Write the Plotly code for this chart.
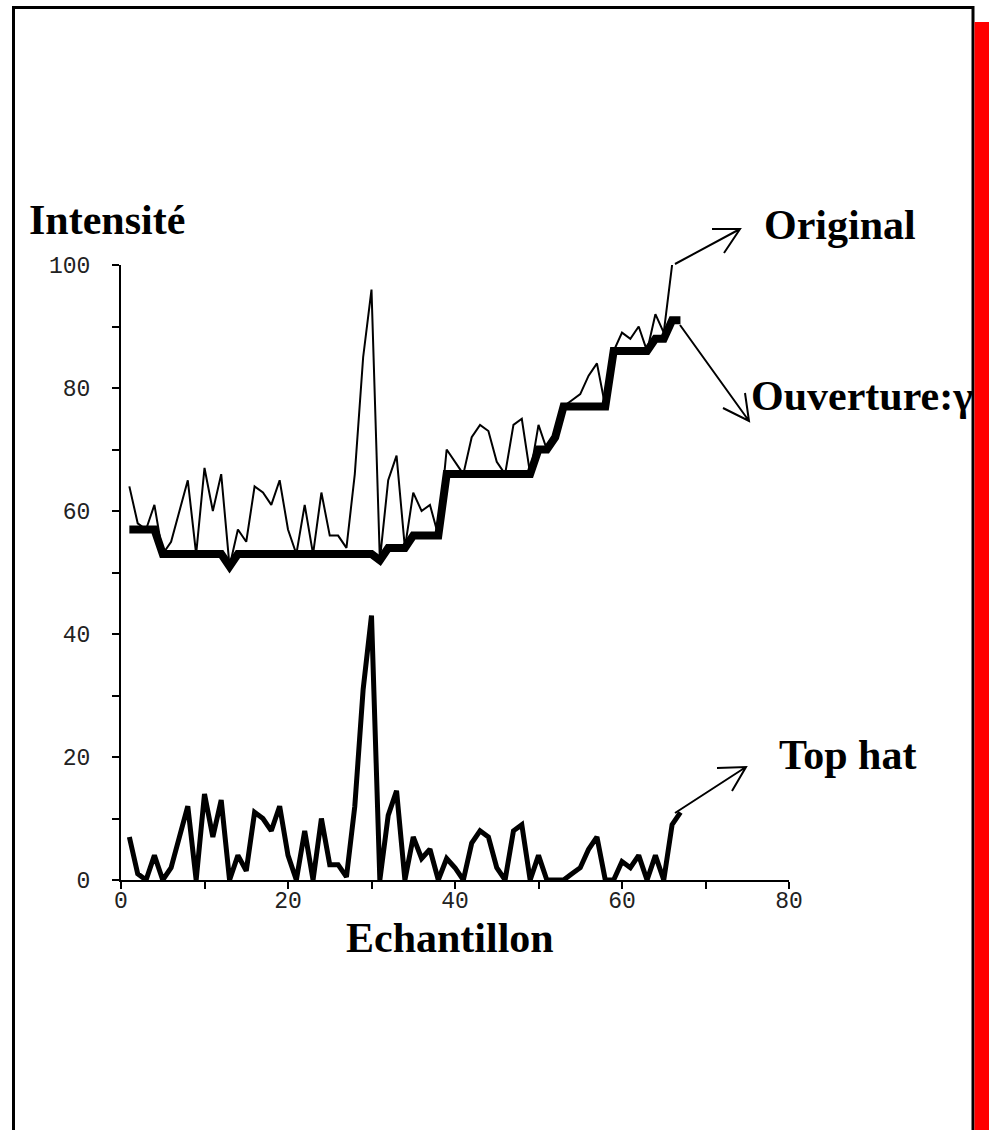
import plotly.graph_objects as go

# ---- data ----
x_original = list(range(1, 67))
original = [64, 58, 57, 61, 53, 55, 60, 65, 53, 67,
            60, 66, 51, 57, 55, 64, 63, 61, 65, 57,
            53, 61, 53, 63, 56, 56, 54, 66, 85, 96,
            52, 65, 69, 54, 63, 60, 61, 56, 70, 68,
            66, 72, 74, 73, 68, 66, 74, 75, 66, 74,
            70, 72, 77, 78, 79, 82, 84, 77, 86, 89,
            88, 90, 86, 92, 89, 100]

x_filtered = list(range(1, 68))
ouverture = [57, 57, 57, 57, 53, 53, 53, 53, 53, 53,
             53, 53, 51, 53, 53, 53, 53, 53, 53, 53,
             53, 53, 53, 53, 53, 53, 53, 53, 53, 53,
             52, 54, 54, 54, 56, 56, 56, 56, 66, 66,
             66, 66, 66, 66, 66, 66, 66, 66, 66, 70,
             70, 72, 77, 77, 77, 77, 77, 77, 86, 86,
             86, 86, 86, 88, 88, 91, 91]

top_hat = [7, 1, 0, 4, 0, 2, 7, 12, 0, 14,
           7, 13, 0, 4, 1.5, 11, 10, 8, 12, 4,
           0, 8, 0, 10, 2.5, 2.5, 0.5, 12, 31, 43,
           0, 10.5, 14.5, 0, 7, 3.5, 5, 0, 3.5, 2,
           0, 6, 8, 7, 2, 0, 8, 9, 0, 4,
           0, 0, 0, 1, 2, 5, 7, 0, 0, 3,
           2, 4, 0, 4, 0, 9, 11]

x_title = "Echantillon"
y_title = "Intensité"
labels = ["Original", "Ouverture:γ", "Top hat"]

# ---- layout geometry (pixels) ----
W, H = 989, 1130
L, R, T, B = 121, 200, 265, 250
PW, PH = W - L - R, H - T - B


def px(xp):
    return (xp - L) / PW


def py(yp):
    return (H - B - yp) / PH


fig = go.Figure()
fig.add_trace(go.Scatter(x=x_original, y=original, mode="lines",
                         line=dict(color="black", width=2), showlegend=False))
fig.add_trace(go.Scatter(x=x_filtered, y=ouverture, mode="lines",
                         line=dict(color="black", width=8), showlegend=False))
fig.add_trace(go.Scatter(x=x_filtered, y=top_hat, mode="lines",
                         line=dict(color="black", width=5), showlegend=False))

tickfont = dict(family="Liberation Mono", size=23, color="#222222")
fig.update_xaxes(range=[0, 80], tickmode="linear", tick0=0, dtick=20,
                 ticks="outside", ticklen=7, tickwidth=2, tickcolor="black",
                 minor=dict(dtick=10, ticks="outside", ticklen=7, tickwidth=2, tickcolor="black"),
                 showline=True, linecolor="black", linewidth=2,
                 showgrid=False, zeroline=False, tickfont=tickfont,
                 ticklabelstandoff=-9)
fig.update_yaxes(range=[0, 100], tickmode="linear", tick0=0, dtick=20,
                 ticks="outside", ticklen=7, tickwidth=2, tickcolor="black",
                 minor=dict(dtick=10, ticks="outside", ticklen=7, tickwidth=2, tickcolor="black"),
                 showline=True, linecolor="black", linewidth=2,
                 showgrid=False, zeroline=False, tickfont=tickfont,
                 ticklabelstandoff=17)

serif = dict(family="Liberation Serif", size=42, color="black", weight="bold")

annots = [
    (y_title, 27, 220, "left"),
    (labels[0], 762, 225, "left"),
    (labels[1], 749, 396, "left"),
    (labels[2], 777, 755, "left"),
    (x_title, 450, 938, "center"),
]
for text, xp_, yp_, anchor in annots:
    fig.add_annotation(text=text, xref="paper", yref="paper",
                       x=px(xp_), y=py(yp_), xanchor=anchor, yanchor="middle",
                       showarrow=False, font=serif)

# arrows: (start, tip, arm1, arm2)
arrows = [
    ((675, 264), (740, 229), (712, 229), (724, 253)),
    ((680, 325), (749, 421), (723, 408), (745, 393)),
    ((675, 813), (746, 767), (717, 768), (732, 791)),
]
for s, t, a1, a2 in arrows:
    path = (f"M {px(s[0])} {py(s[1])} L {px(t[0])} {py(t[1])} "
            f"M {px(a1[0])} {py(a1[1])} L {px(t[0])} {py(t[1])} L {px(a2[0])} {py(a2[1])}")
    fig.add_shape(type="path", path=path, xref="paper", yref="paper",
                  line=dict(color="black", width=2))

# outer frame and red side bar
fig.add_shape(type="rect", xref="paper", yref="paper",
              x0=px(13.5), x1=px(973), y0=py(1140), y1=py(7.5),
              line=dict(color="black", width=3), fillcolor="rgba(0,0,0,0)")
fig.add_shape(type="rect", xref="paper", yref="paper",
              x0=px(974.5), x1=px(995), y0=py(1140), y1=py(22),
              line=dict(width=0), fillcolor="#ff0000", layer="above")

fig.update_layout(width=W, height=H, margin=dict(l=L, r=R, t=T, b=B),
                  paper_bgcolor="white", plot_bgcolor="white", showlegend=False)

fig.write_html("out.html", config={"displayModeBar": False},
               post_script="document.body.style.margin='0px';document.body.style.overflow='hidden';")
